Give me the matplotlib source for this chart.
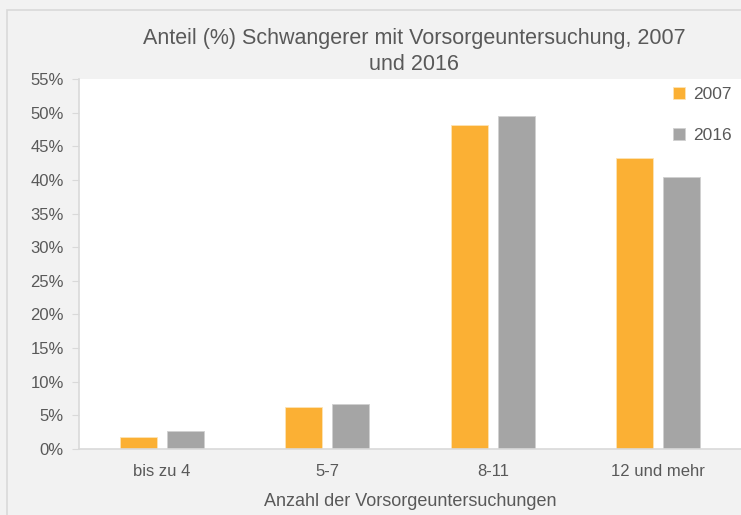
import numpy as np
import matplotlib.pyplot as plt
from matplotlib.patches import Rectangle

# Data
categories = ["bis zu 4", "5-7", "8-11", "12 und mehr"]
years = ["2007", "2016"]
values_2007 = [1.75, 6.3, 48.1, 43.3]
values_2016 = [2.7, 6.7, 49.5, 40.5]
colors = ["#FBB034", "#A5A5A5"]

plt.rcParams['font.family'] = ['Liberation Sans', 'DejaVu Sans']

fig = plt.figure(figsize=(7.41, 5.15), dpi=100)
fig.patch.set_facecolor("#f2f2f2")

# outer chart frame
fig.add_artist(Rectangle((7 / 741, -0.01), 1.0, (515 - 10) / 515 + 0.01,
                         transform=fig.transFigure, fill=False,
                         edgecolor="#d9d9d9", linewidth=1.2))

ax = fig.add_axes([79 / 741, 66 / 515, 1 - 79 / 741, (449 - 79) / 515])
ax.set_facecolor("white")

x = np.arange(len(categories))
w = 0.225
off = 0.142
ax.bar(x - off, values_2007, w, color=colors[0], edgecolor="#fde3b5", linewidth=0.6, label=years[0])
ax.bar(x + off, values_2016, w, color=colors[1], edgecolor="#d0d0d0", linewidth=0.6, label=years[1])

ax.set_xlim(-0.5, 3.5)
ax.set_ylim(0, 55)
ax.set_yticks(np.arange(0, 56, 5))
ax.set_yticklabels([f"{v}%" for v in range(0, 56, 5)])
ax.set_xticks(x)
ax.set_xticklabels(categories)

for s in ["top", "right"]:
    ax.spines[s].set_visible(False)
for s in ["left", "bottom"]:
    ax.spines[s].set_color("#d9d9d9")
    ax.spines[s].set_linewidth(1.2)

ax.tick_params(axis="y", colors="#d9d9d9", labelcolor="#595959", labelsize=12, length=5, pad=6)
ax.tick_params(axis="x", length=0, labelcolor="#595959", labelsize=12, pad=11)

ax.set_xlabel("Anzahl der Vorsorgeuntersuchungen", fontsize=13, color="#595959", labelpad=10)

fig.text(0.559, 0.90, "Anteil (%) Schwangerer mit Vorsorgeuntersuchung, 2007\nund 2016",
         ha="center", va="center", fontsize=15.5, color="#595959", linespacing=1.35)

leg = ax.legend(loc="upper right", bbox_to_anchor=(1.01, 1.02), frameon=False,
                fontsize=12.5, labelcolor="#595959", handlelength=0.7, handleheight=0.7,
                handletextpad=0.5, labelspacing=1.45)

fig.savefig("out.png", dpi=100, facecolor=fig.get_facecolor())
